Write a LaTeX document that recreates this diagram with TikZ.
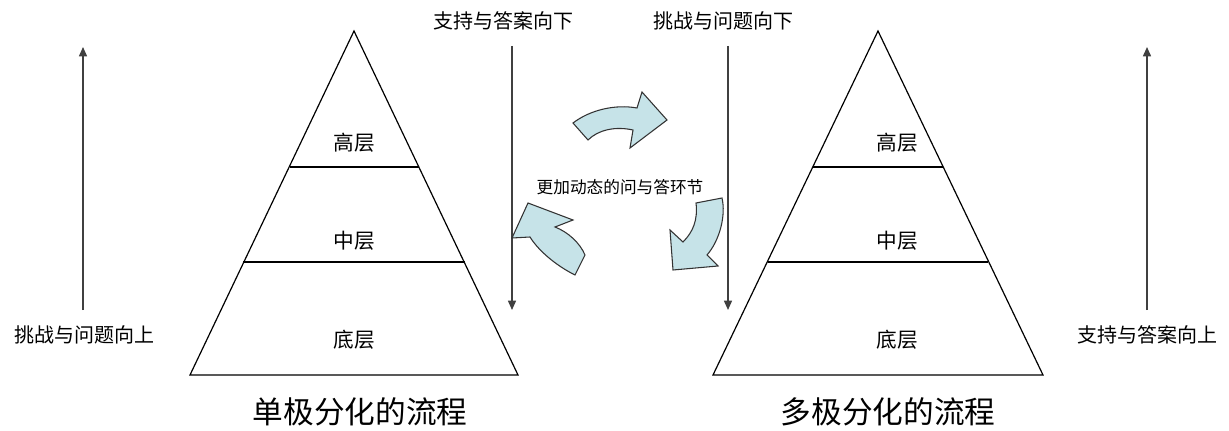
\documentclass[tikz,border=0pt]{standalone}
\usepackage{fontspec}
\newfontfamily\cjk{Noto Sans CJK SC}
\usetikzlibrary{arrows.meta}
\definecolor{arrowfill}{HTML}{C6E3E8}
\tikzset{
  lbl/.style={font=\cjk\fontsize{15pt}{15pt}\selectfont, inner sep=0pt},
  layer/.style={font=\cjk\fontsize{15.5pt}{15.5pt}\selectfont, inner sep=0pt},
  title/.style={font=\cjk\fontsize{23pt}{23pt}\selectfont, inner sep=0pt},
  small/.style={font=\cjk\fontsize{12.5pt}{12.5pt}\selectfont, inner sep=0pt},
  pyr/.style={draw=black, line width=0.9pt, line join=miter},
  flow/.style={draw=black!75, line width=1.1pt, -{Triangle[length=7pt,width=6pt]}},
  cyc/.style={draw=black!80, line width=0.8pt, fill=arrowfill, line join=miter}
}
\begin{document}
\begin{tikzpicture}[x=0.75pt,y=-0.75pt]
\useasboundingbox (0,0) rectangle (1229,431);
% left pyramid
\draw[pyr] (354,31) -- (518,375) -- (190,375) -- cycle;
\draw[pyr] (290,167) -- (419,167);
\draw[pyr] (243,262) -- (465,262);
\node[layer] (lh) at (354,143) {高层};
\node[layer] (lm) at (354,241) {中层};
\node[layer] (ll) at (354,340) {底层};
% right pyramid
\draw[pyr] (878,31) -- (1043,375) -- (713,375) -- cycle;
\draw[pyr] (813,167) -- (943,167);
\draw[pyr] (768,262) -- (988,262);
\node[layer] (rh) at (897,143) {高层};
\node[layer] (rm) at (897,241) {中层};
\node[layer] (rl) at (897,340) {底层};
% side arrows
\coordinate (lu0) at (83,310); \coordinate (lu1) at (83,47);
\draw[flow] (lu0) -- (lu1);
\node[lbl] (lul) at (84,335) {挑战与问题向上};
\coordinate (ru0) at (1147,310); \coordinate (ru1) at (1147,47);
\draw[flow] (ru0) -- (ru1);
\node[lbl] (rul) at (1147,335) {支持与答案向上};
% down arrows
\node[lbl] (ldl) at (503,21) {支持与答案向下};
\coordinate (ld0) at (512,46); \coordinate (ld1) at (512,310);
\draw[flow] (ld0) -- (ld1);
\node[lbl] (rdl) at (723,21) {挑战与问题向下};
\coordinate (rd0) at (728,46); \coordinate (rd1) at (728,310);
\draw[flow] (rd0) -- (rd1);
% cycle arrows
\draw[cyc] (573,123) .. controls (590,110) and (615,104) .. (637,108) -- (642,92) -- (667,120) -- (630,148) -- (633,130) .. controls (615,126) and (598,130) .. (588,140) -- cycle;
\draw[cyc] (696,203) -- (722,198) .. controls (726,215) and (720,240) .. (707,255) -- (718,266) -- (673,270) -- (670,230) -- (683,242) .. controls (693,232) and (698,220) .. (696,203) -- cycle;
\draw[cyc] (585,255) -- (575,275) .. controls (555,265) and (538,250) .. (530,237) -- (512,238) -- (528,203) -- (573,220) -- (555,227) .. controls (568,232) and (580,243) .. (585,255) -- cycle;
\node[small] (mid) at (620,187) {更加动态的问与答环节};
% titles
\node[title] (t1) at (360,412) {单极分化的流程};
\node[title] (t2) at (888,412) {多极分化的流程};
\end{tikzpicture}
\end{document}
